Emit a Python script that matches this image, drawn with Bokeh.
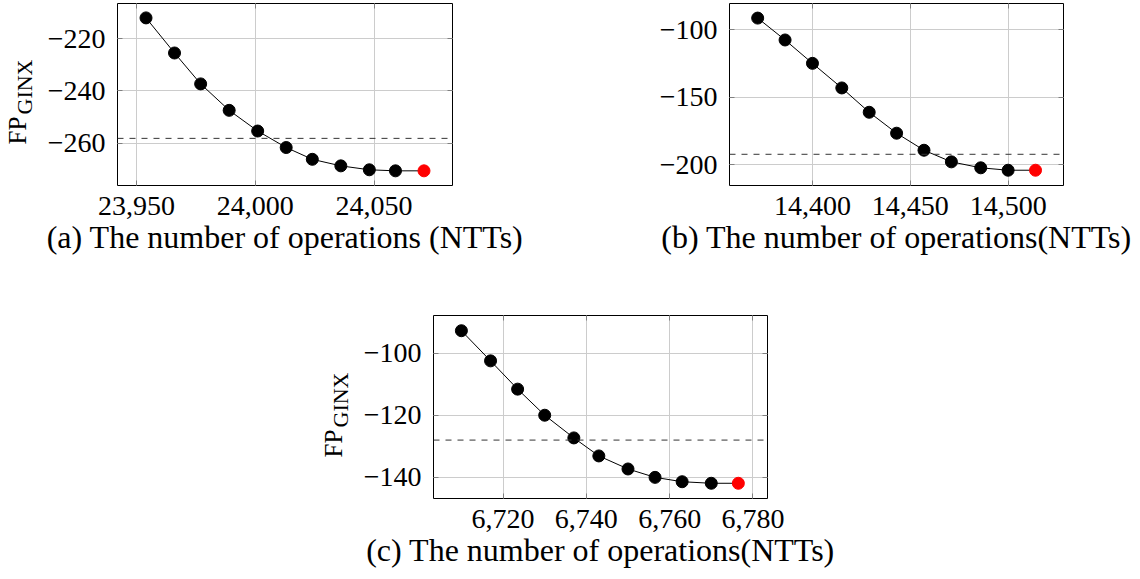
import numpy as np
from bokeh.plotting import figure
from bokeh.models import Range1d, FixedTicker, Span, LinearAxis, Spacer, CustomJSTickFormatter
from bokeh.core.properties import value
from bokeh.layouts import column, row
from bokeh.embed import file_html
from bokeh.resources import INLINE

# ---------------- data ----------------
a_ops = [23954, 23966, 23977, 23989, 24001, 24013, 24024, 24036, 24048, 24059, 24071]
a_fp = [-212.1, -225.5, -237.3, -247.4, -255.3, -261.6, -266.1, -268.6, -270.1, -270.5, -270.5]
a_threshold = -258.1
a_xticks = [23950, 24000, 24050]
a_yticks = [-260, -240, -220]

b_ops = [14372, 14386, 14400, 14415, 14429, 14443, 14457, 14471, 14486, 14500, 14514]
b_fp = [-91.4, -107.6, -124.9, -143.1, -161.1, -176.6, -189.2, -197.8, -202.2, -204.0, -204.0]
b_threshold = -192.2
b_xticks = [14400, 14450, 14500]
b_yticks = [-200, -150, -100]

c_ops = [6710, 6717, 6723.5, 6730, 6737, 6743, 6750, 6756.5, 6763, 6770, 6776.5]
c_fp = [-92.8, -102.5, -111.6, -120.0, -127.3, -133.1, -137.3, -140.0, -141.4, -141.9, -141.9]
c_threshold = -128.0
c_xticks = [6720, 6740, 6760, 6780]
c_yticks = [-140, -120, -100]

captions = ["(a) The number of operations (NTTs)",
            "(b) The number of operations(NTTs)",
            "(c) The number of operations(NTTs)"]
ylabel_main = "FP"
ylabel_sub = "GINX"

SERIF = "Liberation Serif"


def fmt_num(v):
    s = f"{abs(v):,}"
    return ("\u2212" + s) if v < 0 else s


def make_panel(xs, ys, thr, xr, yr, xticks, yticks, caption, width, height, bl, br, bt, bb):
    p = figure(width=width, height=height, x_range=Range1d(*xr), y_range=Range1d(*yr),
               output_backend="svg", toolbar_location=None,
               min_border_left=bl, min_border_right=br, min_border_top=bt, min_border_bottom=bb)
    p.background_fill_color = "white"
    p.border_fill_color = "white"
    p.outline_line_color = "black"
    p.outline_line_width = 1
    p.outline_line_alpha = 1

    for ax, ticks in ((p.xaxis[0], xticks), (p.yaxis[0], yticks)):
        ax.ticker = FixedTicker(ticks=ticks)
        ax.major_label_overrides = {t: fmt_num(t) for t in ticks}
        ax.major_label_text_font = SERIF
        ax.major_label_text_font_size = "28px"
        ax.major_label_text_color = "black"
        ax.major_tick_in = 5
        ax.major_tick_out = 0
        ax.minor_tick_in = 0
        ax.minor_tick_out = 0
        ax.axis_line_color = None
        ax.major_tick_line_color = "#808080"
    p.yaxis[0].major_label_standoff = 12
    p.xaxis[0].major_label_standoff = 11

    xa = p.xaxis[0]
    xa.axis_label = caption
    xa.axis_label_text_font = SERIF
    xa.axis_label_text_font_size = "32px"
    xa.axis_label_text_font_style = "normal"
    xa.axis_label_text_color = "black"
    xa.axis_label_standoff = 1

    for loc, ticks in (("above", xticks), ("right", yticks)):
        ax = LinearAxis(ticker=FixedTicker(ticks=ticks), major_tick_in=5, major_tick_out=0,
                        minor_tick_in=0, minor_tick_out=0, axis_line_color=None,
                        major_tick_line_color="#808080", major_label_standoff=0,
                        major_label_text_font_size="0px",
                        formatter=CustomJSTickFormatter(code="return ''"))
        p.add_layout(ax, loc)

    p.xgrid.grid_line_color = "#cccccc"
    p.ygrid.grid_line_color = "#cccccc"

    p.add_layout(Span(location=thr, dimension="width", line_color="#333333",
                      line_dash="6 6", line_width=1))
    p.line(xs, ys, line_color="black", line_width=1)
    p.scatter(xs[:-1], ys[:-1], size=12, fill_color="black", line_color="black")
    p.scatter(xs[-1:], ys[-1:], size=12, fill_color="#ff0000", line_color="#ff0000")
    return p


def make_ylabel(width, height, bt, bb):
    """Blank strip next to a panel holding the rotated title FP_GINX.
    Its frame is aligned with the panel's frame, coordinates are pixels from the frame's bottom-left."""
    fh = height - bt - bb
    q = figure(width=width, height=height, x_range=Range1d(0, width), y_range=Range1d(0, fh),
               output_backend="svg", toolbar_location=None, x_axis_type=None, y_axis_type=None,
               min_border_left=0, min_border_right=0, min_border_top=bt, min_border_bottom=bb)
    q.outline_line_color = None
    q.grid.visible = False
    q.background_fill_color = "white"
    q.border_fill_color = "white"
    q.text(x=[16.7], y=[41], text=[ylabel_main], angle=np.pi / 2,
           text_font=value(SERIF), text_font_size=value("25px"),
           text_align="left", text_baseline="alphabetic", text_color="black")
    q.text(x=[23.8], y=[71], text=[ylabel_sub], angle=np.pi / 2,
           text_font=value(SERIF), text_font_size=value("22px"),
           text_align="left", text_baseline="alphabetic", text_color="black")
    return q


H1, H2 = 295, 282
la = make_ylabel(40, H1, 3, 110)
fa = make_panel(a_ops, a_fp, a_threshold, (23942, 24083), (-276.1, -206.6), a_xticks, a_yticks,
                captions[0], 520, H1, 77, 108, 3, 110)
fb = make_panel(b_ops, b_fp, b_threshold, (14357.6, 14528.3), (-215.3, -80.6), b_xticks, b_yticks,
                captions[1], 578, H1, 169, 75, 3, 110)
lc = make_ylabel(40, H2, 20, 79)
fc = make_panel(c_ops, c_fp, c_threshold, (6703.3, 6783.5), (-146.8, -87.9), c_xticks, c_yticks,
                captions[2], 540, H2, 77, 129, 20, 79)

layout = column(row(la, fa, fb), row(Spacer(width=316, height=H2), lc, fc))

open("out.html", "w").write(file_html(layout, INLINE))
